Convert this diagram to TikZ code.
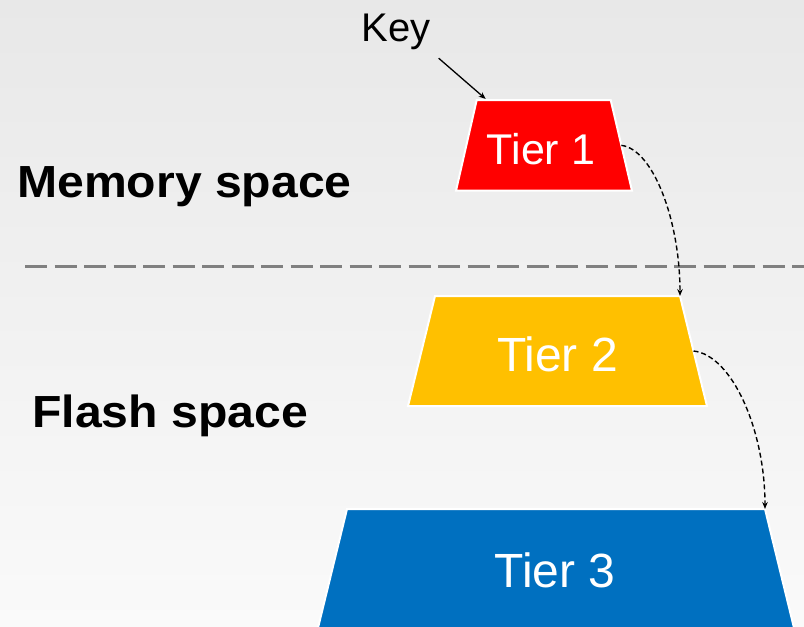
\documentclass[tikz,border=0pt]{standalone}
\usepackage{fontspec}
\setmainfont{Liberation Sans}
\usetikzlibrary{arrows.meta,calc}
\definecolor{tierred}{RGB}{255,0,0}
\definecolor{tieryellow}{RGB}{255,192,0}
\definecolor{tierblue}{RGB}{0,112,192}
\definecolor{bgtop}{RGB}{232,232,232}
\definecolor{bgbot}{RGB}{250,250,250}
\definecolor{sepgray}{RGB}{128,128,128}
\begin{document}
\begin{tikzpicture}[x=1pt,y=-1pt,
  tierbox/.style={draw=white, line width=2pt, line join=miter},
  tiertext/.style={text=white, inner sep=0pt},
  side/.style={font=\fontsize{45}{54}\selectfont\bfseries, anchor=base west, inner sep=0pt},
  flow/.style={line width=1.4pt, dash pattern=on 5pt off 3pt, -{Stealth[length=7pt,width=5.5pt]}},
  pointer/.style={line width=1.3pt, -{Stealth[length=7pt,width=5.5pt]}}]
\useasboundingbox (0,0) rectangle (804,627);
\clip (0,0) rectangle (804,627);
\shade[top color=bgtop, bottom color=bgbot] (0,0) rectangle (804,627);
% separator
\draw[sepgray, line width=3pt, dash pattern=on 22pt off 7.5pt] (25,266) -- (804,266);
% side labels
\node[side] (mem) at (17,197) {\scalebox{1.07}[1]{Memory space}};
\node[side] (flash) at (32,427) {\scalebox{1.07}[1]{Flash space}};
% tier corners
\coordinate (t1tl) at (476.7,100);  \coordinate (t1tr) at (610.7,100);
\coordinate (t1br) at (632,190.7);  \coordinate (t1bl) at (456,190.7);
\coordinate (t2tl) at (435,296);    \coordinate (t2tr) at (680,296);
\coordinate (t2br) at (707,406);    \coordinate (t2bl) at (408,406);
\coordinate (t3tl) at (347,509);    \coordinate (t3tr) at (765,509);
\coordinate (t3br) at (796,636);    \coordinate (t3bl) at (316,636);
\coordinate (t1e) at ($(t1tr)!0.5!(t1br)$);
\coordinate (t2e) at ($(t2tr)!0.5!(t2br)$);
% tiers
\filldraw[tierbox, fill=tierred]    (t1tl) -- (t1tr) -- (t1br) -- (t1bl) -- cycle;
\filldraw[tierbox, fill=tieryellow] (t2tl) -- (t2tr) -- (t2br) -- (t2bl) -- cycle;
\filldraw[tierbox, fill=tierblue]   (t3tl) -- (t3tr) -- (t3br) -- (t3bl) -- cycle;
\node[tiertext, font=\fontsize{43}{50}\selectfont] (t1) at (541,148.8) {Tier 1};
\node[tiertext, font=\fontsize{48}{56}\selectfont] (t2) at (557.5,354) {Tier 2};
\node[tiertext, font=\fontsize{48}{56}\selectfont] (t3) at (555,570) {Tier 3};
% key
\node[font=\fontsize{40}{48}\selectfont, anchor=base, inner sep=8pt] (key) at (396,41.7) {Key};
\draw[pointer] (key.south east) -- ($(t1tl)+(9,-1)$);
% flow arrows
\draw[flow] (t1e) .. controls +(32,4) and +(0,-75) .. (t2tr);
\draw[flow] (t2e) .. controls +(38,4) and +(0,-80) .. (t3tr);
\end{tikzpicture}
\end{document}
